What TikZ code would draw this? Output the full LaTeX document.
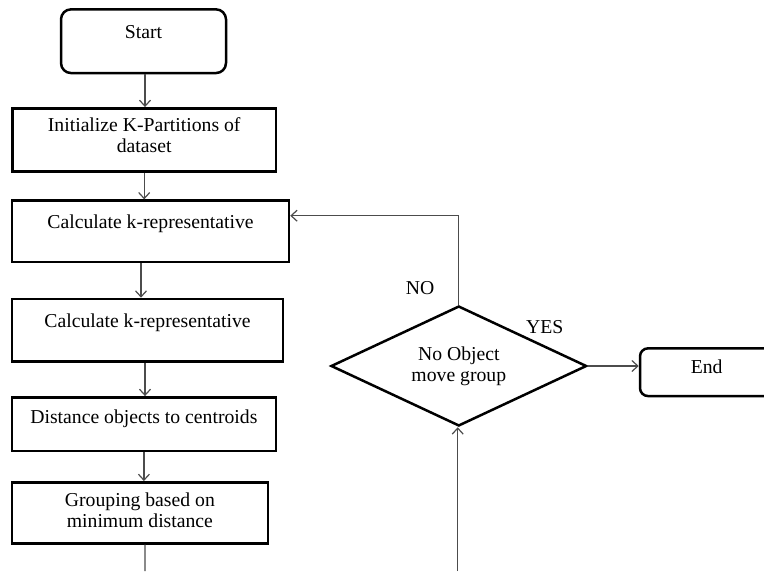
\documentclass[tikz,border=0pt]{standalone}
\usepackage{fontspec}
\setmainfont{Liberation Serif}
\usepackage{tikz}
\usetikzlibrary{arrows.meta}
\usetikzlibrary{shapes.geometric}
\tikzset{%
  flow/.style={-{Straight Barb[length=6pt,width=11pt]}, line width=1.2pt, draw=black!70},
  plainline/.style={line width=1.2pt, draw=black!70},
  procbox/.style={rectangle, draw=black, line width=2.5pt, align=center, inner sep=2pt},
  termbox/.style={procbox, rounded corners=10pt},
  onerow/.style={text height=13pt, text depth=18pt},
  decbox/.style={diamond, draw=black, line width=2.5pt, align=center, inner sep=0pt, aspect=2.13}
}

\begin{document}
\begin{tikzpicture}[x=1pt, y=-1pt, font=\fontsize{19.7}{21}\selectfont]
  \useasboundingbox (0,0) rectangle (764,571);

  \node[termbox, onerow, minimum width=165pt, minimum height=63.7pt] (start) at (143.5,41.2) {Start};
  \node[procbox, text depth=9pt, minimum width=263.7pt, minimum height=63.4pt] (init) at (144.2,140) {Initialize K-Partitions of\\dataset};
  \node[procbox, onerow, minimum width=277pt, minimum height=61.3pt] (calc1) at (150.5,231.3) {Calculate k-representative};
  \node[procbox, onerow, minimum width=271pt, minimum height=62.7pt] (calc2) at (147.5,330.3) {Calculate k-representative};
  \node[procbox, text height=13pt, text depth=15pt, minimum width=263.7pt, minimum height=53.7pt] (dist) at (143.9,424.2) {Distance objects to centroids};
  \node[procbox, text depth=6pt, minimum width=255.7pt, minimum height=61pt] (group) at (139.9,512.8) {Grouping based on\\minimum distance};

  \node[decbox, minimum width=255.7pt, minimum height=120pt] (check) at (458.8,366) {No Object\\move group};
  \node[termbox, rounded corners=8pt, text height=13pt, text depth=11pt, minimum width=133.4pt, minimum height=47.7pt] (finish) at (706.7,372.2) {End};

  \node (lblno) at (420,288) {NO};
  \node (lblyes) at (544.7,327) {YES};

  \coordinate (groupout) at (145,571);
  \coordinate (checkin) at (457.7,571);

  \draw[flow] ([xshift=1.5pt]start.south) -- ([xshift=1.5pt]start.south |- init.north);
  \draw[flow] (init.south) -- (init.south |- calc1.north);
  \draw[flow] ([xshift=-9.5pt]calc1.south) -- ([xshift=-9.5pt]calc1.south |- calc2.north);
  \draw[flow] ([xshift=-2.5pt]calc2.south) -- ([xshift=-2.5pt]calc2.south |- dist.north);
  \draw[flow] (dist.south) -- (dist.south |- group.north);
  \draw[plainline] ([xshift=5pt]group.south) -- (groupout);

  \draw[flow] (checkin) -- (checkin |- check.south);
  \draw[flow] (check.north) |- ([yshift=15.6pt]calc1.east);
  \draw[flow] (check.east) -- (check.east -| finish.west);
\end{tikzpicture}
\end{document}
